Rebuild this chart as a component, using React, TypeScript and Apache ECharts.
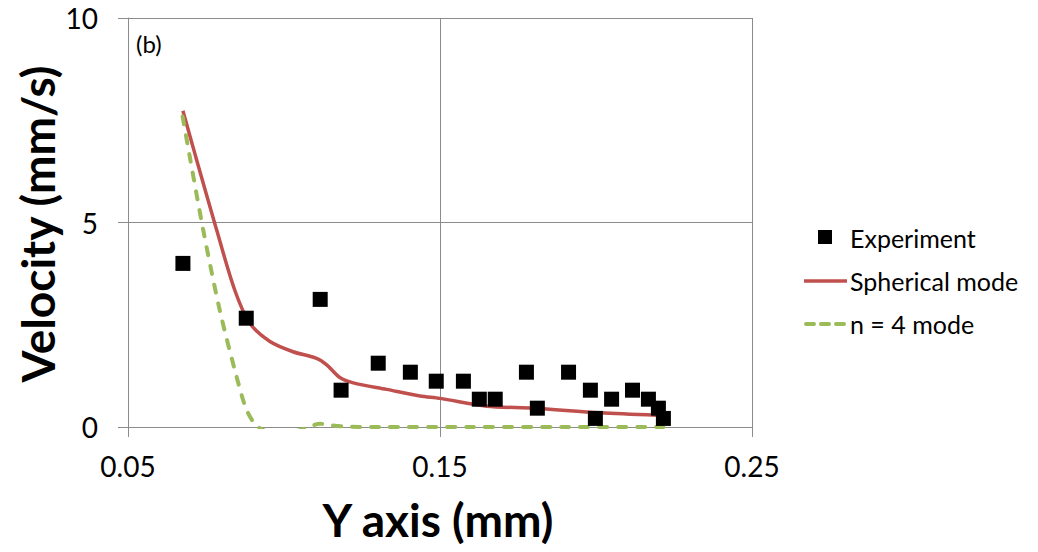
import React, { useEffect, useRef } from "react";
import * as echarts from "echarts";

const expX = [0.0676, 0.0879, 0.1116, 0.1183, 0.1302, 0.1405, 0.1488, 0.1575, 0.1626, 0.1677, 0.1777, 0.1812, 0.1912, 0.1982, 0.1998, 0.205, 0.2117, 0.2168, 0.22, 0.2216];
const expY = [4.0, 2.66, 3.12, 0.9, 1.56, 1.34, 1.12, 1.12, 0.68, 0.68, 1.34, 0.46, 1.34, 0.9, 0.21, 0.68, 0.9, 0.68, 0.46, 0.21];

const sphX = [0.0676, 0.0717, 0.0784, 0.0842, 0.089, 0.0955, 0.1029, 0.1104, 0.1137, 0.1179, 0.1222, 0.1329, 0.1436, 0.15, 0.165, 0.18, 0.2013, 0.2195];
const sphY = [7.73, 6.61, 4.82, 3.35, 2.54, 2.09, 1.84, 1.68, 1.52, 1.21, 1.08, 0.92, 0.76, 0.7, 0.51, 0.46, 0.35, 0.29];

const n4X = [0.0675, 0.0698, 0.0741, 0.0794, 0.0848, 0.088, 0.0912, 0.095, 0.1, 0.105, 0.108, 0.1115, 0.115, 0.12, 0.13, 0.16, 0.19, 0.2216];
const n4Y = [7.59, 6.61, 4.82, 2.86, 1.23, 0.42, 0.03, -0.12, -0.15, -0.08, 0.0, 0.08, 0.04, 0.01, 0, 0, 0, 0];

const xTicks = [0.05, 0.15, 0.25];
const yTicks = [0, 5, 10];

const seriesNames = ["Experiment", "Spherical mode", "n = 4 mode"];

const RED = "#C0504D";
const GREEN = "#9BBB59";
const GRIDC = "#8C8C8C";
const FONT = "Lato";

export default function App() {
  const ref = useRef<HTMLDivElement>(null);
  useEffect(() => {
    if (!ref.current) return;
    const chart = echarts.init(ref.current, undefined, { renderer: "svg" });
    const pairs = (xs: number[], ys: number[]) => xs.map((x, i) => [x, ys[i]]);
    const option: any = {
      animation: false,
      backgroundColor: "#fff",
      grid: { left: 128, right: 286, top: 18, bottom: 125, containLabel: false },
      xAxis: {
        type: "value",
        min: xTicks[0],
        max: xTicks[xTicks.length - 1],
        interval: 0.1,
        axisLine: { show: true, lineStyle: { color: GRIDC, width: 1 } },
        axisTick: { show: true, inside: false, length: 10, lineStyle: { color: GRIDC } },
        splitLine: { show: true, lineStyle: { color: GRIDC, width: 1 } },
        axisLabel: {
          fontFamily: FONT,
          fontSize: 28,
          color: "#000",
          margin: 25,
          formatter: (v: number) => v.toFixed(2),
        },
      },
      yAxis: {
        type: "value",
        min: yTicks[0],
        max: yTicks[yTicks.length - 1],
        interval: 5,
        axisLine: { show: true, lineStyle: { color: GRIDC, width: 1 } },
        axisTick: { show: true, inside: false, length: 10, lineStyle: { color: GRIDC } },
        splitLine: { show: true, lineStyle: { color: GRIDC, width: 1 } },
        axisLabel: { fontFamily: FONT, fontSize: 28, color: "#000", margin: 30 },
      },
      series: [
        {
          name: seriesNames[1],
          type: "line",
          data: pairs(sphX, sphY),
          smooth: 0.3,
          showSymbol: false,
          symbol: "none",
          clip: true,
          lineStyle: { color: RED, width: 3.5 },
          z: 2,
        },
        {
          name: seriesNames[2],
          type: "line",
          data: pairs(n4X, n4Y),
          smooth: 0.3,
          showSymbol: false,
          symbol: "none",
          clip: true,
          lineStyle: { color: GREEN, width: 4, type: [8, 11], cap: "round" },
          z: 2,
        },
        {
          name: seriesNames[0],
          type: "scatter",
          data: pairs(expX, expY),
          symbol: "rect",
          symbolSize: 15,
          itemStyle: { color: "#000", opacity: 1 },
          z: 3,
        },
      ],
      graphic: [
        {
          type: "text",
          x: 136,
          y: 43,
          style: { text: "(b)", fontFamily: FONT, fontSize: 24, fill: "#000", verticalAlign: "middle" },
        },
        {
          type: "text",
          x: 37,
          y: 224,
          rotation: Math.PI / 2,
          style: {
            text: "Velocity (mm/s)",
            fontFamily: FONT,
            fontWeight: "bold",
            fontSize: 46,
            fill: "#000",
            align: "center",
            verticalAlign: "middle",
          },
        },
        {
          type: "text",
          x: 438,
          y: 519,
          style: {
            text: "Y axis (mm)",
            fontFamily: FONT,
            fontWeight: "bold",
            fontSize: 46,
            fill: "#000",
            align: "center",
            verticalAlign: "middle",
          },
        },
        { type: "rect", shape: { x: 818, y: 230, width: 14, height: 14 }, style: { fill: "#000" } },
        {
          type: "text",
          x: 850,
          y: 238,
          style: { text: seriesNames[0], fontFamily: FONT, fontSize: 25, fill: "#000", verticalAlign: "middle" },
        },
        {
          type: "line",
          shape: { x1: 804, y1: 281, x2: 847, y2: 281 },
          style: { stroke: RED, lineWidth: 3.5 },
        },
        {
          type: "text",
          x: 850,
          y: 281,
          style: { text: seriesNames[1], fontFamily: FONT, fontSize: 25, fill: "#000", verticalAlign: "middle" },
        },
        {
          type: "line",
          shape: { x1: 806, y1: 324, x2: 846, y2: 324 },
          style: { stroke: GREEN, lineWidth: 4, lineDash: [8, 7], lineCap: "round" },
        },
        {
          type: "text",
          x: 850,
          y: 324,
          style: { text: seriesNames[2], fontFamily: FONT, fontSize: 25, fill: "#000", verticalAlign: "middle" },
        },
      ],
    };
    chart.setOption(option);
    return () => chart.dispose();
  }, []);
  return <div ref={ref} style={{ width: 1038, height: 552, position: "absolute", left: 0, top: 0 }} />;
}
